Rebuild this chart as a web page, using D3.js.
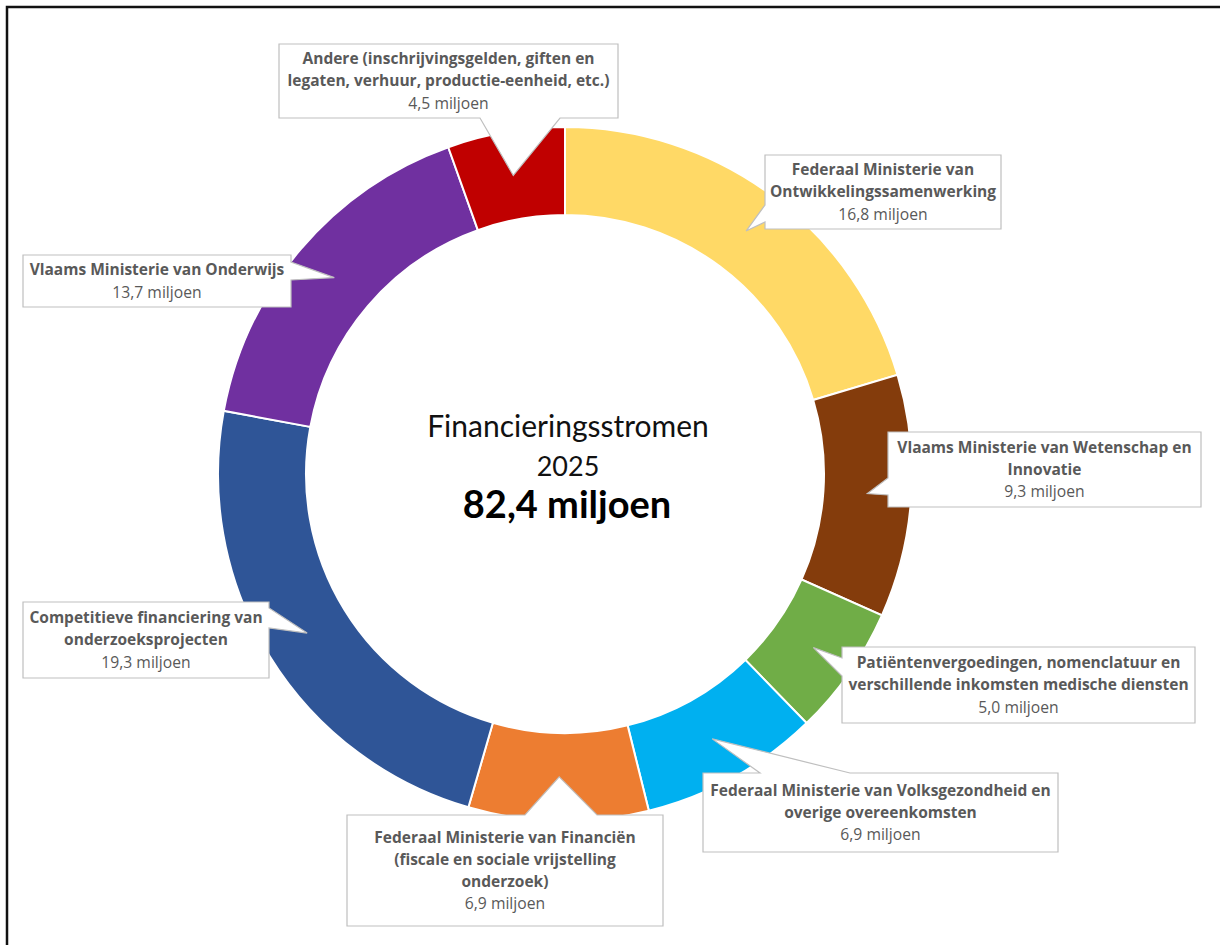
<!DOCTYPE html>
<html><head><meta charset="utf-8">
<script src="https://cdn.jsdelivr.net/npm/d3@7"></script>
<style>body{margin:0;background:#fff} svg{display:block}</style>
</head><body>
<svg id="chart" width="1220" height="945"></svg>
<script>
// ---- data ----
const categories = [
 "Federaal Ministerie van Ontwikkelingssamenwerking",
 "Vlaams Ministerie van Wetenschap en Innovatie",
 "Patiëntenvergoedingen, nomenclatuur en verschillende inkomsten medische diensten",
 "Federaal Ministerie van Volksgezondheid en overige overeenkomsten",
 "Federaal Ministerie van Financiën (fiscale en sociale vrijstelling onderzoek)",
 "Competitieve financiering van onderzoeksprojecten",
 "Vlaams Ministerie van Onderwijs",
 "Andere (inschrijvingsgelden, giften en legaten, verhuur, productie-eenheid, etc.)"
];
const labelLines = [
 ["Federaal Ministerie van","Ontwikkelingssamenwerking"],
 ["Vlaams Ministerie van Wetenschap en","Innovatie"],
 ["Patiëntenvergoedingen, nomenclatuur en","verschillende inkomsten medische diensten"],
 ["Federaal Ministerie van Volksgezondheid en","overige overeenkomsten"],
 ["Federaal Ministerie van Financiën","(fiscale en sociale vrijstelling","onderzoek)"],
 ["Competitieve financiering van","onderzoeksprojecten"],
 ["Vlaams Ministerie van Onderwijs"],
 ["Andere (inschrijvingsgelden, giften en","legaten, verhuur, productie-eenheid, etc.)"]
];
const values = [16.8, 9.3, 5.0, 6.9, 6.9, 19.3, 13.7, 4.5];
const unit = "miljoen";
const titleLines = ["Financieringsstromen", "2025"];

// ---- styles / layout ----
const colors = ["#FFD966","#843C0C","#70AD47","#00B0F0","#ED7D31","#2F5597","#7030A0","#C00000"];
const boxes = [
 {x:765,y:155,w:236,h:74, side:"left",   b:[205,222]},
 {x:888,y:432,w:313,h:75, side:"left",   b:[478,495]},
 {x:842,y:647,w:353,h:76, side:"left",   b:[658,676]},
 {x:703,y:773,w:355,h:79, side:"top",    b:[760,850]},
 {x:347,y:815,w:316,h:111,side:"top",    b:[525,597]},
 {x:23, y:602,w:246,h:76, side:"right",  b:[608,628]},
 {x:23, y:255,w:268,h:52, side:"right",  b:[262,280]},
 {x:279,y:44, w:339,h:74, side:"bottom", b:[480,560]}
];
const cx = 565, cy = 474, rOuter = 347, rInner = 259;
const FONT = "'Open Sans', 'Noto Sans', sans-serif";
const CFONT = "Lato, 'Open Sans', sans-serif";
const labelColor = "#595959";

const svg = d3.select("#chart");

// outer frame
svg.append("path")
  .attr("d", `M7,950 L7,7 L1225,7`)
  .attr("fill","none").attr("stroke","#111").attr("stroke-width",2.5);

const pie = d3.pie().sort(null).value(d => d).startAngle(0).endAngle(2*Math.PI);
const arcs = pie(values);
const arc = d3.arc().innerRadius(rInner).outerRadius(rOuter);

const g = svg.append("g").attr("transform", `translate(${cx},${cy})`);
g.selectAll("path.slice").data(arcs).join("path")
  .attr("class","slice")
  .attr("d", arc)
  .attr("fill", (d,i) => colors[i])
  .attr("stroke","#fff").attr("stroke-width",2);

// center text
const fmt = v => d3.format(".1f")(v).replace(".", ",") + " " + unit;
const total = d3.sum(values);
const ct = svg.append("g").attr("font-family", CFONT).attr("text-anchor","middle");
ct.append("text").attr("x",568).attr("y",cy-37).attr("font-size",30).attr("fill","#111").text(titleLines[0]);
ct.append("text").attr("x",568).attr("y",cy+2).attr("font-size",27).attr("fill","#111").text(titleLines[1]);
ct.append("text").attr("x",567).attr("y",cy+44).attr("font-size",38).attr("font-weight","bold").attr("fill","#000").text(fmt(total));

// callouts
function calloutPath(bx, tip) {
  const {x,y,w,h,side,b} = bx;
  const [tx,ty] = tip;
  if (side === "top")    return `M${x},${y}L${b[0]},${y}L${tx},${ty}L${b[1]},${y}L${x+w},${y}L${x+w},${y+h}L${x},${y+h}Z`;
  if (side === "right")  return `M${x},${y}L${x+w},${y}L${x+w},${b[0]}L${tx},${ty}L${x+w},${b[1]}L${x+w},${y+h}L${x},${y+h}Z`;
  if (side === "bottom") return `M${x},${y}L${x+w},${y}L${x+w},${y+h}L${b[1]},${y+h}L${tx},${ty}L${b[0]},${y+h}L${x},${y+h}Z`;
  return `M${x},${y}L${x+w},${y}L${x+w},${y+h}L${x},${y+h}L${x},${b[1]}L${tx},${ty}L${x},${b[0]}Z`;
}
const centroidArc = d3.arc().innerRadius(rInner).outerRadius(rOuter);
const lh = 22.2;
const cg = svg.append("g").attr("font-family", FONT);
arcs.forEach((d,i) => {
  const c = centroidArc.centroid(d);
  const tip = [cx + c[0], cy + c[1]];
  const bx = boxes[i];
  cg.append("path").attr("d", calloutPath(bx, tip))
    .attr("fill","#fff").attr("stroke","#bfbfbf").attr("stroke-width",1.2);
  const lines = labelLines[i].concat([fmt(values[i])]);
  const n = lines.length;
  const midY = bx.y + bx.h/2;
  lines.forEach((ln,k) => {
    const isVal = k === n-1;
    cg.append("text")
      .attr("x", bx.x + bx.w/2)
      .attr("y", midY + (k - (n-1)/2)*lh)
      .attr("dy","0.35em")
      .attr("text-anchor","middle")
      .attr("font-size", isVal ? 15.7 : 15.5)
      .attr("font-weight", isVal ? "normal" : "bold")
      .attr("fill", labelColor)
      .text(ln);
  });
});
</script>
</body></html>
